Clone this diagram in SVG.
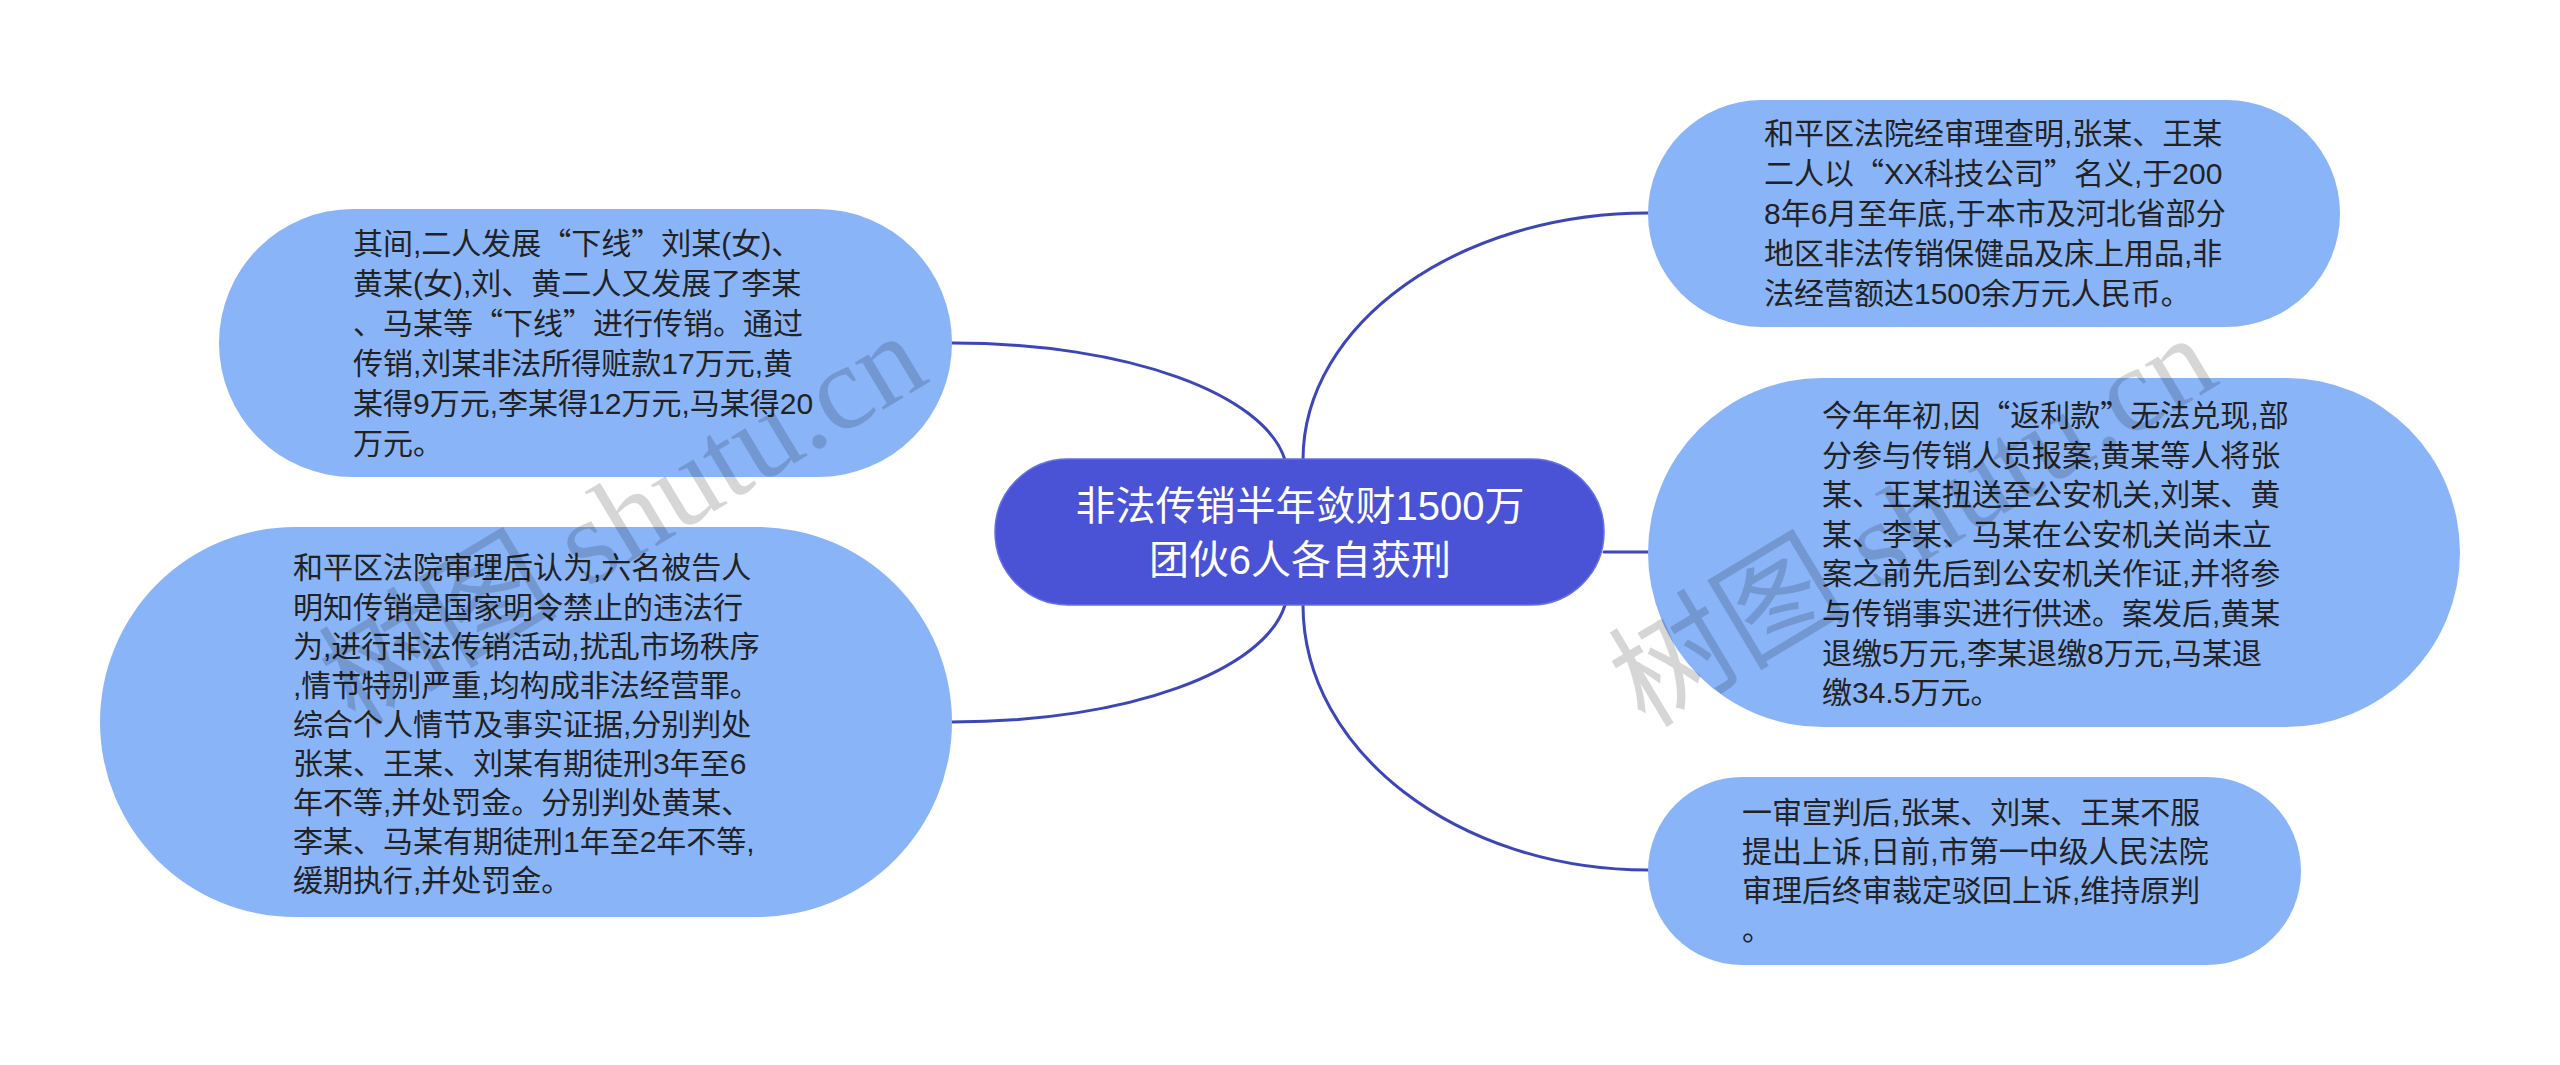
<svg xmlns="http://www.w3.org/2000/svg" width="2560" height="1065" viewBox="0 0 2560 1065">
<style>
.conn{fill:none;stroke:#3d46b8;stroke-width:3;stroke-linecap:round}
.child{fill:#8ab4f8}
.root{fill:#4a52d6;stroke:#6470e4;stroke-width:1.5}
.t{font-family:"Liberation Sans","Noto Sans CJK SC",sans-serif;font-size:30px;fill:#222222}
.q{font-family:"Noto Sans CJK SC",sans-serif}
.rt{font-family:"Liberation Sans","Noto Sans CJK SC",sans-serif;font-size:40px;fill:#ffffff;text-anchor:middle}
.wm{font-family:"Liberation Serif","Noto Sans CJK SC",serif;font-size:120px;fill:#000000;fill-opacity:0.16}
</style>
<rect width="2560" height="1065" fill="#ffffff"/>
<g id="connectors">
<path class="conn" d="M952,343 C1130,343 1265,395 1285,460"/>
<path class="conn" d="M952,722 C1130,722 1265,670 1285,605"/>
<path class="conn" d="M1303,460 C1303,324 1458,213 1648,213"/>
<path class="conn" d="M1604,552 L1648,552"/>
<path class="conn" d="M1303,605 C1303,751 1458,870 1648,870"/>
</g>
<g id="root">
<rect class="root" x="995" y="459" width="609" height="146" rx="73"/>
<text class="rt" x="1300" y="520">非法传销半年敛财1500万</text>
<text class="rt" x="1300" y="574">团伙6人各自获刑</text>
</g>
<g id="node-tl">
<rect class="child" x="219" y="209" width="733" height="268" rx="134"/>
<text class="t" x="353" y="254">其间,二人发展<tspan class="q">“</tspan>下线<tspan class="q">”</tspan>刘某(女)、</text>
<text class="t" x="353" y="294">黄某(女),刘、黄二人又发展了李某</text>
<text class="t" x="353" y="334">、马某等<tspan class="q">“</tspan>下线<tspan class="q">”</tspan>进行传销。通过</text>
<text class="t" x="353" y="374">传销,刘某非法所得赃款17万元,黄</text>
<text class="t" x="353" y="414">某得9万元,李某得12万元,马某得20</text>
<text class="t" x="353" y="454">万元。</text>
</g>
<g id="node-bl">
<rect class="child" x="100" y="527" width="852" height="390" rx="195"/>
<text class="t" x="293" y="578">和平区法院审理后认为,六名被告人</text>
<text class="t" x="293" y="618">明知传销是国家明令禁止的违法行</text>
<text class="t" x="293" y="657">为,进行非法传销活动,扰乱市场秩序</text>
<text class="t" x="293" y="696">,情节特别严重,均构成非法经营罪。</text>
<text class="t" x="293" y="735">综合个人情节及事实证据,分别判处</text>
<text class="t" x="293" y="774">张某、王某、刘某有期徒刑3年至6</text>
<text class="t" x="293" y="813">年不等,并处罚金。分别判处黄某、</text>
<text class="t" x="293" y="852">李某、马某有期徒刑1年至2年不等,</text>
<text class="t" x="293" y="891">缓期执行,并处罚金。</text>
</g>
<g id="node-tr">
<rect class="child" x="1648" y="100" width="692" height="227" rx="113.5"/>
<text class="t" x="1764" y="144">和平区法院经审理查明,张某、王某</text>
<text class="t" x="1764" y="184">二人以<tspan class="q">“</tspan>XX科技公司<tspan class="q">”</tspan>名义,于200</text>
<text class="t" x="1764" y="224">8年6月至年底,于本市及河北省部分</text>
<text class="t" x="1764" y="264">地区非法传销保健品及床上用品,非</text>
<text class="t" x="1764" y="304">法经营额达1500余万元人民币。</text>
</g>
<g id="node-mr">
<rect class="child" x="1648" y="378" width="812" height="349" rx="174.5"/>
<text class="t" x="1822" y="426">今年年初,因<tspan class="q">“</tspan>返利款<tspan class="q">”</tspan>无法兑现,部</text>
<text class="t" x="1822" y="466">分参与传销人员报案,黄某等人将张</text>
<text class="t" x="1822" y="505">某、王某扭送至公安机关,刘某、黄</text>
<text class="t" x="1822" y="545">某、李某、马某在公安机关尚未立</text>
<text class="t" x="1822" y="584">案之前先后到公安机关作证,并将参</text>
<text class="t" x="1822" y="624">与传销事实进行供述。案发后,黄某</text>
<text class="t" x="1822" y="664">退缴5万元,李某退缴8万元,马某退</text>
<text class="t" x="1822" y="703">缴34.5万元。</text>
</g>
<g id="node-br">
<rect class="child" x="1648" y="777" width="653" height="188" rx="94"/>
<text class="t" x="1742" y="823">一审宣判后,张某、刘某、王某不服</text>
<text class="t" x="1742" y="862">提出上诉,日前,市第一中级人民法院</text>
<text class="t" x="1742" y="901">审理后终审裁定驳回上诉,维持原判</text>
<text class="t" x="1742" y="940">。</text>
</g>
<g id="watermark">
<text class="wm" transform="translate(355,727) rotate(-31)">树图 shutu.cn</text>
<text class="wm" transform="translate(1645,729) rotate(-31)">树图 shutu.cn</text>
</g>
</svg>
